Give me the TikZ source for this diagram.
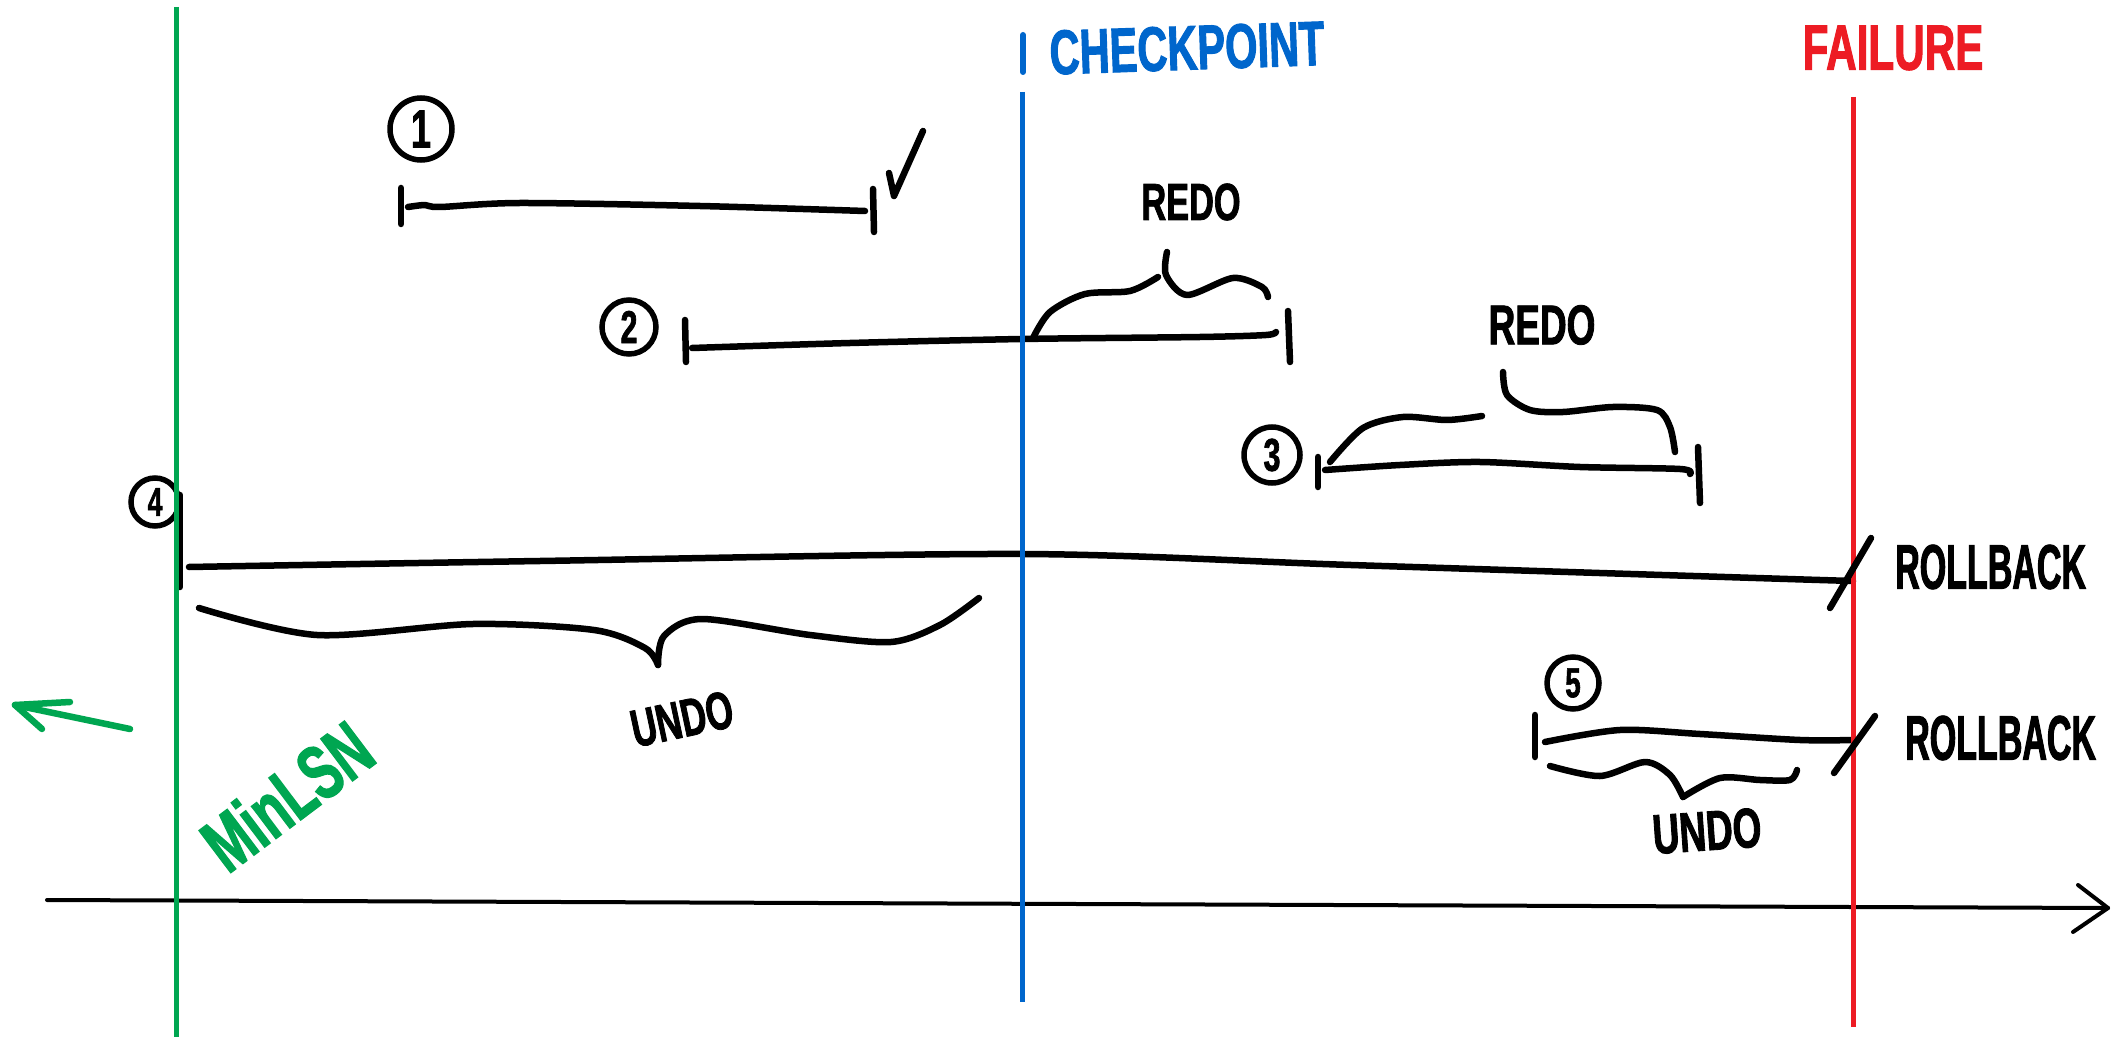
\documentclass[tikz,border=0pt]{standalone}
\usepackage{fontspec}
\setmainfont{Liberation Sans}
\newfontfamily\handfont[FakeStretch=0.66, FakeBold=1.5]{Liberation Sans Bold}
\newfontfamily\handnarrow[FakeStretch=0.54, FakeBold=1.5]{Liberation Sans Bold}
\definecolor{lsngreen}{RGB}{0,166,81}
\definecolor{cpblue}{RGB}{0,102,204}
\definecolor{failred}{RGB}{237,28,36}
\tikzset{
  ink/.style={line width=6.5pt, line cap=round, line join=round, black},
  guide/.style={line width=5pt},
  numc/.style={circle, draw, line width=5.5pt, inner sep=0pt, font=\fontsize{#1}{#1}\selectfont\handfont},
  hand/.style={inner sep=0pt, font=\fontsize{#1}{#1}\selectfont\handfont},
  handn/.style={inner sep=0pt, font=\fontsize{#1}{#1}\selectfont\handnarrow},
}
\begin{document}
\begin{tikzpicture}[x=1pt,y=-1pt]
\useasboundingbox (0,0) rectangle (2118,1040);
\fill[white] (0,0) rectangle (2118,1040);

% time axis
\coordinate (ax0) at (47,900);
\coordinate (ax1) at (2108,908);
\coordinate (axa) at (2078,885);
\coordinate (axb) at (2073,932);
\draw[ink, line width=4pt] (ax0) -- (ax1);
\draw[ink, line width=4pt] (axa) -- (ax1) -- (axb);

% transaction 1
\node[numc=54, minimum size=62pt] (n1) at (421,129) {1};
\coordinate (t1a) at (401,188); \coordinate (t1b) at (401,224);
\coordinate (t1c) at (873,189); \coordinate (t1d) at (874,232);
\draw[ink] (t1a) -- (t1b);
\draw[ink] (t1c) -- (t1d);
\draw[ink] plot[smooth] coordinates {(408,207) (425,205) (440,207) (520,203) (700,206) (865,211)};
\coordinate (ck0) at (889,173); \coordinate (ck1) at (894,196); \coordinate (ck2) at (923,131);
\draw[ink] (ck0) -- (ck1) -- (ck2);

% transaction 2
\node[numc=46, minimum size=54pt] (n2) at (629,327) {2};
\coordinate (t2a) at (685,320); \coordinate (t2b) at (686,362);
\coordinate (t2c) at (1288,311); \coordinate (t2d) at (1290,362);
\draw[ink] (t2a) -- (t2b);
\draw[ink] (t2c) -- (t2d);
\draw[ink] plot[smooth] coordinates {(692,348) (850,343) (1022,339) (1200,337) (1266,335) (1276,332)};
\draw[ink] plot[smooth] coordinates {(1033,338) (1050,312) (1085,294) (1130,291) (1158,277)};
\draw[ink] plot[smooth] coordinates {(1167,252) (1166,275) (1187,295) (1233,278) (1262,287) (1268,297)};
\node[hand=52] (redo1) at (1191,202) {REDO};

% transaction 3
\node[numc=46, minimum size=56pt] (n3) at (1272,455) {3};
\coordinate (t3a) at (1318,457); \coordinate (t3b) at (1318,487);
\coordinate (t3c) at (1698,447); \coordinate (t3d) at (1700,503);
\draw[ink] (t3a) -- (t3b);
\draw[ink] (t3c) -- (t3d);
\draw[ink] plot[smooth] coordinates {(1325,470) (1400,465) (1480,462) (1580,467) (1680,469) (1690,474)};
\draw[ink] plot[smooth] coordinates {(1330,462) (1363,428) (1403,417) (1447,420) (1482,416)};
\draw[ink] plot[smooth] coordinates {(1503,372) (1507,395) (1530,410) (1563,412) (1613,407) (1657,410) (1670,427) (1675,452)};
\node[hand=56] (redo2) at (1542,325) {REDO};

% transaction 4
\node[numc=40, minimum size=48pt] (n4) at (155,502) {4};
\coordinate (t4a) at (180,495); \coordinate (t4b) at (180,587);
\draw[ink] (t4a) -- (t4b);
\draw[ink] plot[smooth] coordinates {(189,567) (540,561) (1022,554) (1351,565) (1756,578) (1853,581)};
\draw[ink] plot[smooth] coordinates {(199,608) (317,635) (473,624) (594,630) (645,648) (658,665)};
\draw[ink] plot[smooth] coordinates {(658,665) (664,636) (702,619) (810,635) (891,642) (940,625) (979,598)};
\node[hand=53, rotate=12] (undo1) at (682,719) {UNDO};
\coordinate (s4a) at (1830,608); \coordinate (s4b) at (1871,538);
\node[handn=63, anchor=west] (rb1) at (1895,567) {ROLLBACK};

% transaction 5
\node[numc=42, minimum size=52pt] (n5) at (1573,683) {5};
\coordinate (t5a) at (1535,715); \coordinate (t5b) at (1535,757);
\draw[ink] (t5a) -- (t5b);
\draw[ink] plot[smooth] coordinates {(1545,742) (1620,730) (1700,734) (1800,740) (1853,740)};
\draw[ink] plot[smooth] coordinates {(1550,766) (1600,776) (1645,762) (1670,775) (1683,797)};
\draw[ink] plot[smooth] coordinates {(1683,797) (1720,778) (1760,780) (1790,780) (1797,770)};
\node[hand=56, rotate=4] (undo2) at (1707,831) {UNDO};
\coordinate (s5a) at (1834,773); \coordinate (s5b) at (1875,716);
\node[handn=63, anchor=west] (rb2) at (1905,738) {ROLLBACK};

% guide lines
\coordinate (g0) at (176,7); \coordinate (g1) at (176,1037);
\coordinate (b0) at (1022,92); \coordinate (b1) at (1022,1002);
\coordinate (bt0) at (1023,35); \coordinate (bt1) at (1023,72);
\coordinate (r0) at (1853,97); \coordinate (r1) at (1853,1027);
\draw[guide, lsngreen] (g0) -- (g1);
\draw[guide, cpblue] (b0) -- (b1);
\draw[guide, cpblue, line width=6pt, line cap=round] (bt0) -- (bt1);
\draw[guide, failred] (r0) -- (r1);

% rollback slashes (on top of red line)
\draw[ink] (s4a) -- (s4b);
\draw[ink] (s5a) -- (s5b);

% labels of guide lines
\node[hand=63, text=cpblue, rotate=2] (cp) at (1187,48) {CHECKPOINT};
\node[hand=64, text=failred] (fl) at (1893,48) {FAILURE};
\node[hand=77, text=lsngreen, rotate=37] (ml) at (287,796) {MinLSN};

% green arrow
\coordinate (ga0) at (130,729); \coordinate (ga1) at (15,705);
\coordinate (gh0) at (70,702); \coordinate (gh1) at (42,729);
\draw[ink, lsngreen] (ga0) -- (ga1);
\draw[ink, lsngreen] (gh0) -- (ga1) -- (gh1);
\end{tikzpicture}
\end{document}
